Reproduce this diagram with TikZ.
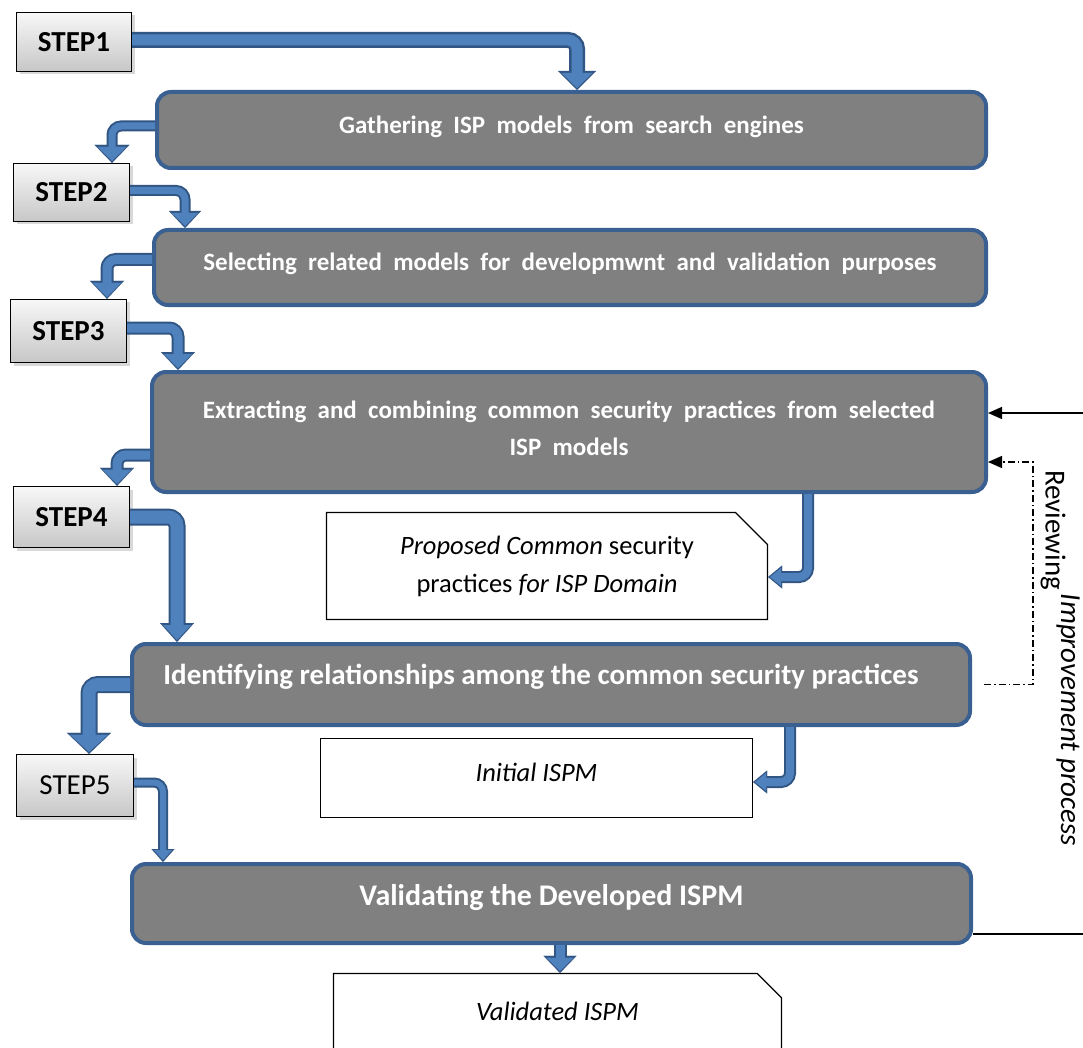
\documentclass[tikz,border=0pt]{standalone}
\usepackage{fontspec}
\setmainfont{Carlito}
\usetikzlibrary{arrows.meta,shapes.misc,shadows}
\definecolor{bgray}{RGB}{128,128,128}
\definecolor{bblue}{RGB}{58,96,146}
\definecolor{afill}{RGB}{79,129,189}
\definecolor{aline}{RGB}{50,86,132}
\begin{document}
\begin{tikzpicture}[x=1pt,y=-1pt,
  stepbox/.style={draw=black, line width=1.3pt, top color=black!3, bottom color=black!22,
    inner sep=0pt, drop shadow={shadow xshift=3pt, shadow yshift=-3pt, opacity=0.3},
    font=\fontsize{29}{32}\selectfont\bfseries},
  mainbox/.style={draw=bblue, fill=bgray, line width=4pt, rounded corners=14pt, inner sep=0pt},
  maintext/.style={text=white, align=center, inner sep=0pt, font=\bfseries\fontsize{25}{37}\selectfont},
  doc/.style={chamfered rectangle, chamfered rectangle corners=north east,
    chamfered rectangle xsep=16pt, chamfered rectangle ysep=16pt,
    draw=black, line width=1.2pt, fill=white, inner sep=0pt, align=center,
    font=\fontsize{26.5}{38}\selectfont},
  flow/.style n args={6}{rounded corners=9pt, draw=afill, line width=#4pt, shorten >=2pt,
    -{Triangle[width=#5pt,length=#6pt,line width=0.1pt]},
    preaction={draw=aline, line width=#1pt, shorten >=0pt,
      -{Triangle[width=#2pt,length=#3pt,line width=0.1pt]}}},
  thinarrow/.style={draw=black, line width=1.3pt, -{Triangle[width=12pt,length=14pt]}},
  dd/.style={draw=black, line width=1.3pt, dash pattern=on 7pt off 3pt on 1.5pt off 3pt,
    -{Triangle[width=12pt,length=14pt]}},
  sidetext/.style={rotate=-90, inner sep=0pt, font=\fontsize{29}{32}\selectfont}
]
\clip (0,0) rectangle (1083,1048);
\fill[white] (0,0) rectangle (1083,1048);

% step boxes
\node[stepbox, minimum width=115pt, minimum height=59pt] (s1) at (74,42) {STEP1};
\node[stepbox, minimum width=116pt, minimum height=58pt] (s2) at (71.5,192.5) {STEP2};
\node[stepbox, minimum width=116pt, minimum height=63pt] (s3) at (68.5,331) {STEP3};
\node[stepbox, minimum width=116pt, minimum height=61pt] (s4) at (71.5,517) {STEP4};
\node[stepbox, minimum width=117pt, minimum height=62pt, font=\fontsize{29}{32}\selectfont] (s5) at (75,785.5) {STEP5};

% main process boxes
\node[mainbox, minimum width=829pt, minimum height=76pt] (b1) at (571.5,130) {};
\node[mainbox, minimum width=832pt, minimum height=75pt] (b2) at (570,267.5) {};
\node[mainbox, minimum width=834pt, minimum height=120pt] (b3) at (569,432) {};
\node[mainbox, minimum width=838pt, minimum height=81pt] (b4) at (551,684.5) {};
\node[mainbox, minimum width=839pt, minimum height=79pt] (b5) at (551.5,903.5) {};

\node[maintext] (t1) at ([yshift=3pt]b1.center) {Gathering\ \ ISP\ \ models\ \ from\ \ search\ \ engines};
\node[maintext] (t2) at ([yshift=3.5pt]b2.center) {Selecting\ \ related\ \ models\ \ for\ \ developmwnt\ \ and\ \ validation\ \ purposes};
\node[maintext] (t3) at ([yshift=3.5pt]b3.center) {Extracting\ \ and\ \ combining\ \ common\ \ security\ \ practices\ \ from\ \ selected\\ISP\ \ models};
\node[maintext, font=\bfseries\fontsize{29}{32}\selectfont] (t4) at ([xshift=-10pt,yshift=7.5pt]b4.center) {Identifying relationships among the common security practices};
\node[maintext, font=\bfseries\fontsize{30}{33}\selectfont] (t5) at ([yshift=6.5pt]b5.center) {Validating the Developed ISPM};

% documents
\node[doc, minimum width=441pt, minimum height=107pt] (d1) at (547,566) {\textit{Proposed Common} security\\practices \textit{for ISP Domain}};
\node[doc, minimum width=432pt, minimum height=79pt, chamfered rectangle xsep=13pt, chamfered rectangle ysep=13pt] (d2) at (536.5,778) {};
\node[font=\itshape\fontsize{26.5}{30}\selectfont] (d2t) at ([yshift=6pt]d2.center) {Initial ISPM};
\node[doc, minimum width=448pt, minimum height=76pt, chamfered rectangle xsep=15pt, chamfered rectangle ysep=15pt] (d3) at (557.5,1011.5) {\textit{Validated ISPM}};

% bend coordinates
\coordinate (k1) at (577,0);
\coordinate (k2) at (112,0);
\coordinate (k3) at (185,0);
\coordinate (k4) at (107,0);
\coordinate (k5) at (178,0);
\coordinate (k6) at (117,0);
\coordinate (k7) at (177,0);
\coordinate (k8) at (89,0);
\coordinate (k9) at (163,0);
\coordinate (k10) at (808,0);
\coordinate (k11) at (790,0);
\coordinate (k12) at (560,0);

% block arrows
\draw[flow={16}{38}{19}{11}{31}{15}] ([yshift=2pt]s1.east) -| (b1.north -| k1);
\draw[flow={11}{35}{18}{7}{29}{14}] ([yshift=4pt]b1.west) -| (s2.north -| k2);
\draw[flow={11}{32}{17}{7}{26}{13}] ([yshift=2pt]s2.east) -| (b2.north -| k3);
\draw[flow={13}{34}{18}{9}{28}{14}] ([yshift=8pt]b2.west) -| (s3.north -| k4);
\draw[flow={13}{34}{18}{9}{28}{14}] ([yshift=3pt]s3.east) -| (b3.north -| k5);
\draw[flow={13}{34}{18}{9}{28}{14}] ([yshift=-23pt]b3.west) -| (s4.north -| k6);
\draw[flow={17}{34}{19}{13}{28}{15}] (s4.east) -| (b4.north -| k7);
\draw[flow={17}{44}{21}{13}{38}{17}] (b4.west) -| (s5.north -| k8);
\draw[flow={10}{23}{13}{6}{18}{10}] ([yshift=3pt]s5.east) -| (b5.north -| k9);
\draw[flow={12}{23}{14}{8}{18}{11}] (b3.south -| k10) |- ([yshift=-11pt]d1.east);
\draw[flow={12}{23}{14}{8}{18}{11}] (b4.south -| k11) |- ([yshift=-4pt]d2.east);
\draw[flow={13}{33}{17}{9}{27}{13}] (b5.south -| k12) -- (d3.north -| k12);

% improvement loop
\coordinate (r1) at (1090,413);
\coordinate (r2) at (1090,934);
\coordinate (rv) at (1033,462);
\draw[thinarrow] (r1) -- (b3.east |- r1);
\draw[draw=black, line width=1.3pt] (b5.east |- r2) -- (r2);
\draw[dd] ([xshift=12pt]b4.east) -| (rv) -- (b3.east |- rv);

\node[sidetext] (rev) at (1053,530) {Reviewing};
\node[sidetext, font=\itshape\fontsize{29}{32}\selectfont] (imp) at (1068,720) {Improvement process};
\end{tikzpicture}
\end{document}
